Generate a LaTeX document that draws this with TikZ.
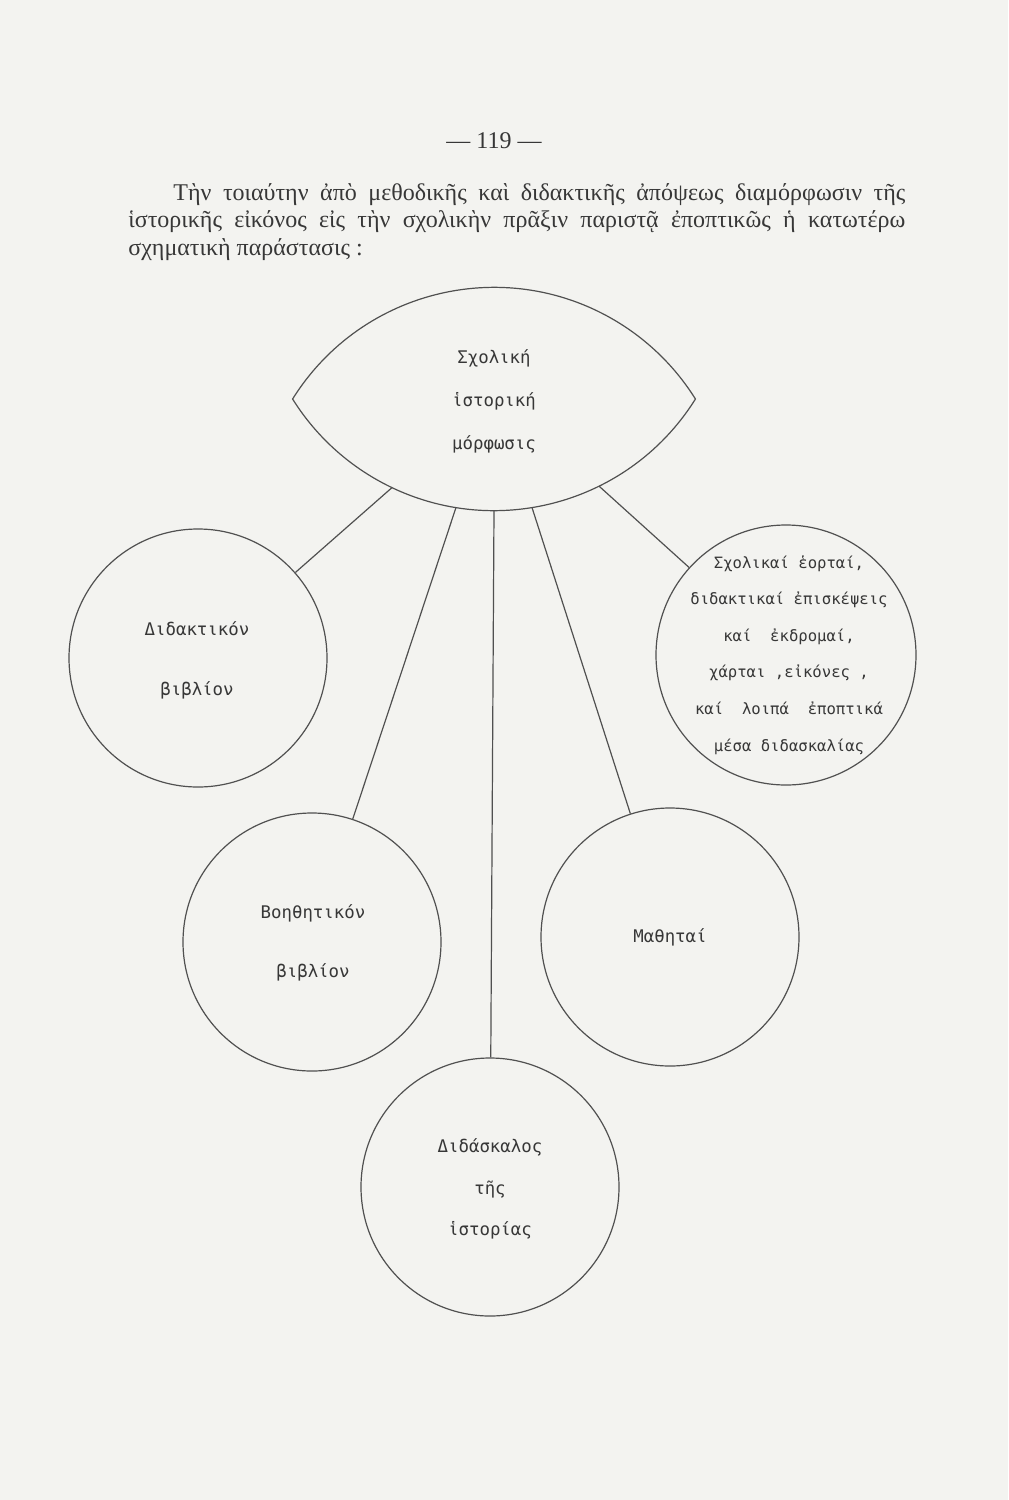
\documentclass[tikz,border=0pt]{standalone}
\usepackage{fontspec}
\setmainfont{Liberation Serif}
\newfontfamily\typewriter{DejaVu Sans Mono}
\definecolor{paperGray}{RGB}{243,243,240}
\definecolor{inkGray}{RGB}{55,55,55}
\definecolor{penGray}{RGB}{80,80,80}

\begin{document}
\begin{tikzpicture}[x=0.5pt, y=-0.5pt,
    ring/.style={circle, draw=penGray, line width=0.6pt, inner sep=0pt, minimum size=#1},
    words/.style={text=inkGray, align=center, inner sep=0pt, font=\typewriter\fontsize{8.7}{#1}\selectfont},
    smallwords/.style={text=inkGray, align=center, inner sep=0pt, font=\typewriter\fontsize{7.8}{#1}\selectfont},
    prose/.style={anchor=base west, inner sep=0pt, text=inkGray, font=\fontsize{12}{12}\selectfont},
    link/.style={draw=penGray, line width=0.6pt}]
\fill[paperGray] (0,0) rectangle (1008,1500);
\useasboundingbox (0,0) rectangle (1008,1500);

% page number and the text above the scheme
\node[prose, anchor=base] (pageno) at (494,148) {—\ 119\ —};
\node[prose] (row1) at (173,200) {\makebox[366pt][s]{Τὴν τοιαύτην ἀπὸ μεθοδικῆς καὶ διδακτικῆς ἀπόψεως διαμόρφωσιν τῆς}};
\node[prose] (row2) at (128,227.5) {\makebox[388.5pt][s]{ἱστορικῆς εἰκόνος εἰς τὴν σχολικὴν πρᾶξιν παριστᾷ ἐποπτικῶς ἡ κατωτέρω}};
\node[prose] (row3) at (128,255) {σχηματικὴ παράστασις :};

% the lens on top
\draw[link] (292.6,399) arc[start angle=212, end angle=328, radius=237.5]
    arc[start angle=32, end angle=148, radius=237.5] -- cycle;
\node[words=21.5pt] (morf) at (494,401) {Σχολική\\ἱστορική\\μόρφωσις};
\coordinate (morf-a) at (392,487.6);
\coordinate (morf-b) at (456,507.5);
\coordinate (morf-c) at (494,510.6);
\coordinate (morf-d) at (532,507.5);
\coordinate (morf-e) at (599,486.1);

% circles
\node[ring=129pt] (didak) at (198,658) {};
\node[words=30pt] (didak-t) at (197,660) {Διδακτικόν\\βιβλίον};
\node[ring=130pt] (sch) at (786,655) {};
\node[smallwords=18.3pt] (sch-t) at (789,655) {Σχολικαί ἑορταί,\\διδακτικαί ἐπισκέψεις\\καί\ \ ἐκδρομαί,\\χάρται ,εἰκόνες ,\\καί\ \ λοιπά\ \ ἐποπτικά\\μέσα διδασκαλίας};
\node[ring=129pt] (boith) at (312,942) {};
\node[words=29.5pt] (boith-t) at (313,943) {Βοηθητικόν\\βιβλίον};
\node[ring=129pt] (math) at (670,937) {};
\node[words=20pt] (math-t) at (670,937) {Μαθηταί};
\node[ring=129pt] (didask) at (490,1187) {};
\node[words=20.75pt] (didask-t) at (490,1189) {Διδάσκαλος\\τῆς\\ἱστορίας};

% connectors
\draw[link] (morf-a) -- (didak);
\draw[link] (morf-b) -- (boith);
\draw[link] (morf-c) -- (didask);
\draw[link] (morf-d) -- (math);
\draw[link] (morf-e) -- (sch);
\end{tikzpicture}
\end{document}
